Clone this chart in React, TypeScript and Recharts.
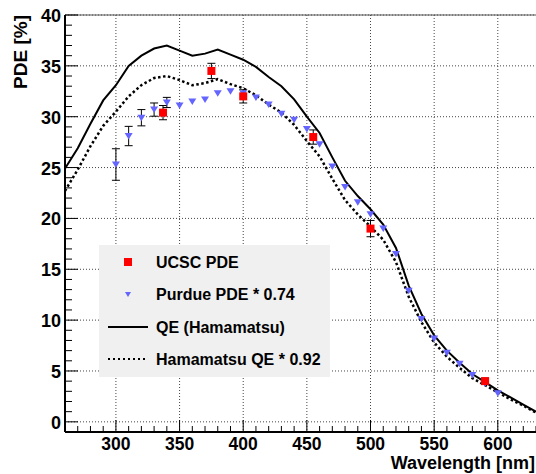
import React from 'react';
import {
  ComposedChart,
  Line,
  Scatter,
  XAxis,
  YAxis,
  CartesianGrid,
  ErrorBar,
  Legend,
  ReferenceLine,
  Label,
} from 'recharts';

const FONT = '"Liberation Sans", Arial, Helvetica, sans-serif';

// Hamamatsu QE curve (solid)
const qeWavelengths = [
  260, 270, 280, 290, 300, 310, 320, 330, 340, 350, 360, 370, 380, 390, 400, 410, 420, 430, 440,
  450, 460, 470, 480, 490, 500, 510, 520, 530, 540, 550, 560, 570, 580, 590, 600, 610, 620, 630,
];
const qeValues = [
  24.9, 26.9, 29.3, 31.6, 33.1, 35.0, 36.0, 36.7, 37.0, 36.5, 36.0, 36.2, 36.6, 36.1, 35.6, 34.9,
  33.9, 33.0, 31.7, 30.0, 28.4, 26.0, 23.7, 22.2, 20.9, 19.4, 17.1, 13.4, 10.6, 8.5, 7.0, 5.8, 4.7,
  3.9, 3.1, 2.4, 1.7, 1.0,
];

// Hamamatsu QE * 0.92 (dotted)
const hamaValues = [
  22.7, 24.8, 27.1, 29.1, 30.5, 32.0, 33.1, 33.8, 34.0, 33.6, 33.1, 33.3, 33.7, 33.2, 32.8, 32.1,
  31.2, 30.4, 29.2, 27.6, 26.1, 23.9, 21.8, 20.4, 19.2, 17.9, 15.7, 12.3, 9.8, 7.8, 6.4, 5.3, 4.3,
  3.6, 2.9, 2.2, 1.6, 0.9,
];

// Purdue PDE * 0.74
const purdueWavelengths = [
  300, 310, 320, 330, 340, 350, 360, 370, 380, 390, 400, 410, 420, 430, 440, 450, 460, 470, 480,
  490, 500, 510, 520, 530, 540, 550, 560, 570, 580, 590, 600,
];
const purdueValues = [
  25.3, 28.1, 29.9, 30.7, 31.4, 31.1, 31.5, 31.7, 32.3, 32.5, 32.3, 31.9, 31.2, 30.3, 29.7, 28.8,
  27.3, 25.1, 23.1, 21.6, 20.4, 19.0, 16.5, 12.9, 10.1, 8.2, 6.8, 5.7, 4.6, 3.8, 2.8,
];
const purdueErrors = [
  1.55, 0.95, 0.8, 0.65, 0.5, 0, 0, 0, 0, 0, 0, 0, 0, 0, 0, 0, 0, 0, 0, 0, 0, 0, 0, 0, 0, 0, 0, 0,
  0, 0, 0,
];

// UCSC PDE
const ucscWavelengths = [337, 375, 400, 455, 500, 590];
const ucscValues = [30.4, 34.5, 32.0, 28.0, 19.0, 4.0];
const ucscErrors = [0.7, 0.75, 0.65, 0.7, 0.8, 0.3];

const xMajorTicks = [300, 350, 400, 450, 500, 550, 600];
const yMajorTicks = [0, 5, 10, 15, 20, 25, 30, 35, 40];
const xAllTicks = Array.from({ length: 37 }, (_, i) => 270 + i * 10);
const yAllTicks = Array.from({ length: 41 }, (_, i) => i);

const qeData = qeWavelengths.map((nm, i) => ({ nm, pde: qeValues[i] }));
const hamaData = qeWavelengths.map((nm, i) => ({ nm, pde: hamaValues[i] }));
const purdueData = purdueWavelengths.map((nm, i) => ({ nm, pde: purdueValues[i], err: purdueErrors[i] }));
const purdueErrData = purdueData.filter((d) => d.err > 0);
const ucscData = ucscWavelengths.map((nm, i) => ({ nm, pde: ucscValues[i], err: ucscErrors[i] }));

const XTick = (props: any) => {
  const { x, y, payload } = props;
  const major = xMajorTicks.includes(payload.value);
  return (
    <g>
      <line x1={x} x2={x} y1={y} y2={y - (major ? 12 : 6)} stroke="#000" strokeWidth={1} />
      {major && (
        <text x={x} y={y + 18} textAnchor="middle" fontFamily={FONT} fontWeight="bold" fontSize={17.5} fill="#000">
          {payload.value}
        </text>
      )}
    </g>
  );
};

const YTick = (props: any) => {
  const { x, y, payload } = props;
  const major = yMajorTicks.includes(payload.value);
  return (
    <g>
      <line x1={x} x2={x + (major ? 13 : 7)} y1={y} y2={y} stroke="#000" strokeWidth={1} />
      {major && (
        <text x={x - 4} y={y + 7} textAnchor="end" fontFamily={FONT} fontWeight="bold" fontSize={18} fill="#000">
          {payload.value}
        </text>
      )}
    </g>
  );
};

const Triangle = (props: any) => {
  const { cx, cy } = props;
  if (cx == null || cy == null) return <g />;
  return <polygon points={`${cx - 4},${cy - 3} ${cx + 4},${cy - 3} ${cx},${cy + 3.5}`} fill="#6464ff" />;
};

const Square = (props: any) => {
  const { cx, cy } = props;
  if (cx == null || cy == null) return <g />;
  return <rect x={cx - 4} y={cy - 4} width={8} height={8} fill="#ff0000" />;
};

const Nothing = () => <g />;

const textStyle = { fontFamily: FONT, fontWeight: 'bold' as const, fontSize: 16, fill: '#000' };

const LegendBox = () => (
  <svg width={231} height={132} style={{ display: 'block' }}>
    <rect width={231} height={132} fill="#f0f0f0" />
    <rect x={25} y={13} width={8} height={8} fill="#ff0000" />
    <polygon points="26,47 32,47 29,52" fill="#6464ff" />
    <line x1={9} x2={49} y1={82} y2={82} stroke="#000" strokeWidth={2} />
    <line x1={9} x2={49} y1={114} y2={114} stroke="#000" strokeWidth={2} strokeDasharray="2 3" />
    <text x={57} y={23} {...textStyle}>UCSC PDE</text>
    <text x={57} y={55} {...textStyle}>Purdue PDE * 0.74</text>
    <text x={57} y={88} {...textStyle}>QE (Hamamatsu)</text>
    <text x={57} y={120} {...textStyle}>Hamamatsu QE * 0.92</text>
  </svg>
);

export default function App() {
  return (
    <div style={{ position: 'absolute', left: 0, top: 0, background: '#fff' }}>
      <ComposedChart width={536} height={474} margin={{ top: 15, right: 0, bottom: 0, left: 0 }}>
        <CartesianGrid
          horizontalValues={yMajorTicks}
          verticalValues={xMajorTicks}
          stroke="#444"
          strokeDasharray="1 2"
          strokeWidth={1}
        />
        <XAxis
          type="number"
          dataKey="nm"
          domain={[260, 630]}
          allowDataOverflow
          ticks={xAllTicks}
          interval={0}
          height={42}
          tickSize={0}
          tickMargin={0}
          tickLine={false}
          tick={<XTick />}
          axisLine={{ stroke: '#000', strokeWidth: 2 }}
        >
          <Label
            content={() => (
              <text x={535} y={469} textAnchor="end" fontFamily={FONT} fontWeight="bold" fontSize={18} fill="#000">
                Wavelength [nm]
              </text>
            )}
          />
        </XAxis>
        <YAxis
          type="number"
          domain={[-1, 40]}
          allowDataOverflow
          ticks={yAllTicks}
          interval={0}
          width={65}
          tickSize={0}
          tickMargin={0}
          tickLine={false}
          tick={<YTick />}
          axisLine={{ stroke: '#000', strokeWidth: 2 }}
        >
          <Label
            content={() => (
              <text
                transform="translate(27,15) rotate(-90)"
                textAnchor="end"
                fontFamily={FONT}
                fontWeight="bold"
                fontSize={19}
                fill="#000"
              >
                PDE [%]
              </text>
            )}
          />
        </YAxis>
        <ReferenceLine y={40} stroke="#555" strokeWidth={1} />
        <Line
          data={qeData}
          dataKey="pde"
          type="linear"
          stroke="#000"
          strokeWidth={2}
          dot={false}
          isAnimationActive={false}
        />
        <Line
          data={hamaData}
          dataKey="pde"
          type="linear"
          stroke="#000"
          strokeWidth={2.5}
          strokeDasharray="2.5 2.5"
          dot={false}
          isAnimationActive={false}
        />
        <Scatter data={purdueErrData} dataKey="pde" shape={<Nothing />} isAnimationActive={false}>
          <ErrorBar dataKey="err" direction="y" width={4} stroke="#000" strokeWidth={1} isAnimationActive={false} />
        </Scatter>
        <Scatter data={purdueData} dataKey="pde" shape={<Triangle />} isAnimationActive={false} />
        <Scatter data={ucscData} dataKey="pde" shape={<Square />} isAnimationActive={false}>
          <ErrorBar dataKey="err" direction="y" width={4} stroke="#000" strokeWidth={1} isAnimationActive={false} />
        </Scatter>
        <Legend
          layout="horizontal"
          verticalAlign="middle"
          align="center"
          wrapperStyle={{ left: 99, top: 245, width: 231, height: 132 }}
          content={() => <LegendBox />}
        />
      </ComposedChart>
    </div>
  );
}
